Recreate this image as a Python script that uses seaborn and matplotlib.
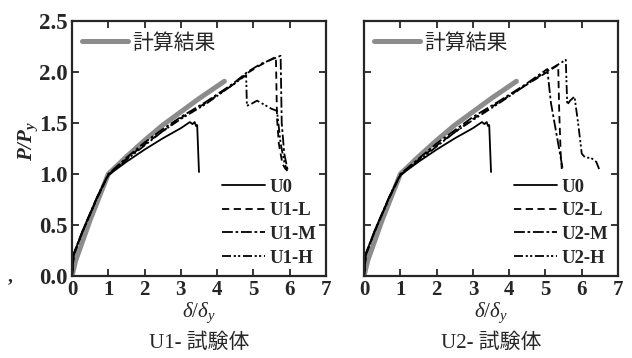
import numpy as np
import pandas as pd
import matplotlib
matplotlib.use("Agg")
import matplotlib.pyplot as plt
import seaborn as sns

# calculated curve (same for both panels)
calc_x = [0.0, 0.1, 0.5, 1.0, 1.5, 2.0, 2.5, 3.0, 3.5, 4.2]
calc_y = [0.0, 0.15, 0.55, 1.0, 1.17, 1.33, 1.48, 1.61, 1.74, 1.91]

# U0 (control, same in both panels)
u0_x = [0.0, 0.05, 0.3, 0.7, 1.0, 1.5, 2.0, 2.5, 3.0, 3.25, 3.32, 3.38, 3.42, 3.45, 3.5]
u0_y = [0.0, 0.22, 0.45, 0.78, 0.99, 1.12, 1.24, 1.35, 1.45, 1.51, 1.49, 1.51, 1.47, 1.48, 1.02]

# U1 series
u1l_x = [0.0, 0.05, 0.3, 0.7, 1.0, 1.5, 2.0, 2.5, 3.0, 3.7, 4.45, 4.83, 5.2, 5.62, 5.65, 5.7, 5.8, 5.9]
u1l_y = [0.0, 0.21, 0.44, 0.77, 0.99, 1.15, 1.29, 1.42, 1.55, 1.70, 1.88, 1.99, 2.07, 2.15, 1.55, 1.3, 1.1, 1.04]
u1m_x = [0.0, 0.05, 0.3, 0.7, 1.0, 1.5, 2.0, 2.5, 3.0, 3.7, 4.45, 4.83, 5.2, 5.75, 5.78, 5.85, 5.95]
u1m_y = [0.0, 0.22, 0.45, 0.78, 1.0, 1.16, 1.31, 1.44, 1.56, 1.71, 1.89, 2.0, 2.08, 2.16, 1.5, 1.2, 1.03]
u1h_x = [0.0, 0.05, 0.3, 0.7, 1.0, 1.5, 2.0, 2.5, 3.0, 3.7, 4.45, 4.8, 4.82, 4.95, 5.1, 5.3, 5.5, 5.65, 5.75, 5.85, 5.93]
u1h_y = [0.0, 0.2, 0.44, 0.77, 0.99, 1.14, 1.28, 1.42, 1.54, 1.69, 1.88, 1.97, 1.67, 1.69, 1.72, 1.68, 1.64, 1.62, 1.3, 1.12, 1.03]

# U2 series
u2l_x = [0.0, 0.05, 0.3, 0.7, 1.0, 1.5, 2.0, 2.5, 3.0, 3.7, 4.45, 5.0, 5.35, 5.38, 5.42, 5.45]
u2l_y = [0.0, 0.21, 0.44, 0.77, 0.99, 1.14, 1.28, 1.41, 1.54, 1.70, 1.87, 1.99, 2.07, 1.6, 1.2, 1.05]
u2m_x = [0.0, 0.05, 0.3, 0.7, 1.0, 1.5, 2.0, 2.5, 3.0, 3.7, 4.45, 5.05, 5.15, 5.3, 5.45, 5.48]
u2m_y = [0.0, 0.22, 0.45, 0.78, 1.0, 1.15, 1.3, 1.43, 1.56, 1.71, 1.88, 2.03, 1.7, 1.4, 1.1, 1.04]
u2h_x = [0.0, 0.05, 0.3, 0.7, 1.0, 1.5, 2.0, 2.5, 3.0, 3.7, 4.45, 5.0, 5.56, 5.6, 5.68, 5.8, 5.9, 6.0, 6.1, 6.25, 6.4, 6.5]
u2h_y = [0.0, 0.2, 0.44, 0.77, 0.99, 1.13, 1.27, 1.41, 1.53, 1.69, 1.87, 2.0, 2.12, 1.68, 1.72, 1.76, 1.5, 1.2, 1.16, 1.16, 1.12, 1.03]

calc_label = "計算結果"
panel_titles = ["U1- 試験体", "U2- 試験体"]
x_ticks = [0, 1, 2, 3, 4, 5, 6, 7]
y_ticks = [0.0, 0.5, 1.0, 1.5, 2.0, 2.5]

sns.set_style("ticks")
plt.rcParams['font.family'] = ['Liberation Serif', 'Noto Sans CJK JP']
plt.rcParams['mathtext.fontset'] = 'custom'
plt.rcParams['mathtext.rm'] = 'Liberation Serif'
plt.rcParams['mathtext.it'] = 'Liberation Serif:italic'
plt.rcParams['mathtext.bf'] = 'Liberation Serif:bold'
plt.rcParams['mathtext.bfit'] = 'Liberation Serif:italic:bold'

styles = {
    "dash": (0, (4, 2.5)),
    "dashdot": (0, (6, 1.5, 1.5, 1.5)),
    "dashdotdot": (0, (5, 1.5, 1.2, 1.2, 1.2, 1.5)),
}

fig = plt.figure(figsize=(6.32, 3.58), dpi=100)
ax1 = fig.add_axes([0.1139, 0.229, 0.4019, 0.712])
ax2 = fig.add_axes([0.576, 0.229, 0.4019, 0.712])

panels = [
    (ax1, "U1", [(u1l_x, u1l_y), (u1m_x, u1m_y), (u1h_x, u1h_y)]),
    (ax2, "U2", [(u2l_x, u2l_y), (u2m_x, u2m_y), (u2h_x, u2h_y)]),
]

for i, (ax, name, series) in enumerate(panels):
    sns.lineplot(x=calc_x, y=calc_y, ax=ax, color="#8c8c8c", linewidth=3.6,
                 sort=False, estimator=None)
    h_calc = ax.lines[-1]
    handles = []
    sns.lineplot(x=u0_x, y=u0_y, ax=ax, color="black", linewidth=1.3, sort=False, estimator=None)
    handles.append(ax.lines[-1])
    for (sx, sy), key in zip(series, ["dash", "dashdot", "dashdotdot"]):
        sns.lineplot(x=sx, y=sy, ax=ax, color="black", linewidth=1.3, linestyle=styles[key],
                     sort=False, estimator=None)
        handles.append(ax.lines[-1])

    labels = ["U0", name + "-L", name + "-M", name + "-H"]
    leg_calc = ax.legend([h_calc], [calc_label], loc="upper left", frameon=False,
                         handlelength=2.2, handletextpad=0.2, borderaxespad=0.1,
                         prop={'family': ['Noto Sans CJK JP'], 'size': 15})
    ax.add_artist(leg_calc)
    ax.legend(handles, labels, loc="lower right", frameon=False, handlelength=2.3,
              handletextpad=0.25, labelspacing=0.35, borderaxespad=0.1,
              prop={'family': 'Liberation Serif', 'weight': 'bold', 'size': 13.5})

    ax.set_xlim(0, 7)
    ax.set_ylim(0, 2.5)
    ax.set_xticks(x_ticks)
    ax.set_yticks(y_ticks)
    ax.tick_params(direction="in", top=True, right=True, length=5, width=1.3, pad=3)
    ax.tick_params(axis="x", labelsize=15)
    ax.tick_params(axis="y", labelsize=16.5)
    for sp in ax.spines.values():
        sp.set_linewidth(1.6)
    ax.set_xlabel(r'$\delta/\delta_y$', fontsize=15, labelpad=0)
    ax.text(0.5, -0.225, panel_titles[i], transform=ax.transAxes, ha="center", va="top",
            fontsize=15, family=['Liberation Serif', 'Noto Sans CJK JP'])
    for lab in ax.get_xticklabels() + ax.get_yticklabels():
        lab.set_fontweight("bold")

ax1.set_yticklabels(["0.0", "0.5", "1.0", "1.5", "2.0", "2.5"], fontweight="bold")
ax1.set_ylabel(r'$\mathbfit{P/P_y}$', fontsize=15)
ax1.yaxis.set_label_coords(-0.125, 0.53)
ax2.set_yticklabels([])
ax2.set_ylabel("")

fig.text(0.012, 0.215, ",", fontsize=14, fontweight="bold")

plt.savefig("out.png", dpi=100)
